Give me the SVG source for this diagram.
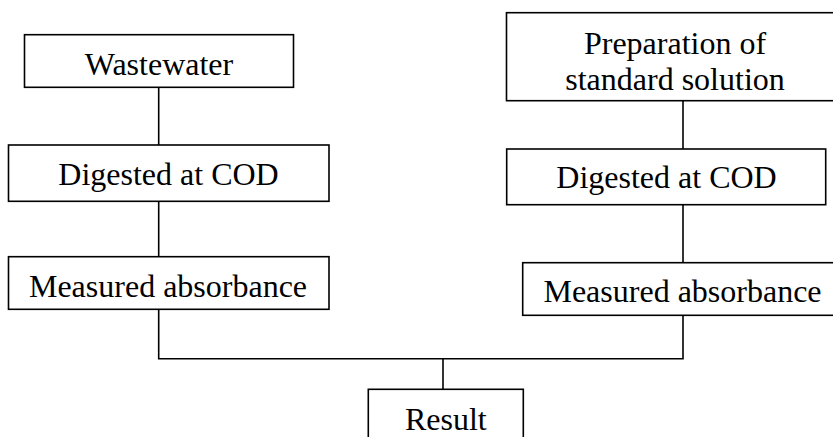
<svg xmlns="http://www.w3.org/2000/svg" width="833" height="437" viewBox="0 0 833 437">
<style>
rect{fill:#fff;stroke:#000;stroke-width:1.6}
text{font-family:"Liberation Serif","Times New Roman",serif;font-size:32px;fill:#000;text-anchor:middle}
.c path{fill:none;stroke:#000;stroke-width:1.6}
</style>
<rect x="0" y="0" width="833" height="437" style="stroke:none"/>
<g class="c" id="connectors">
<path d="M158.7 87.3V145"/>
<path d="M158.7 201.3V256.7"/>
<path d="M158.7 309.3V358.7H683V315.3"/>
<path d="M683 100.7V149"/>
<path d="M683 204.7V262.7"/>
<path d="M443 358.7V389.3"/>
</g>
<g id="wastewater"><rect x="24.5" y="34.7" width="269" height="52.6"/><text x="159" y="75">Wastewater</text></g>
<g id="digested-left"><rect x="8.5" y="145" width="320.5" height="56.3"/><text x="168.5" y="185">Digested at COD</text></g>
<g id="measured-left"><rect x="8.5" y="256.7" width="320.5" height="52.6"/><text x="168" y="297">Measured absorbance</text></g>
<g id="preparation"><rect x="506.5" y="12.7" width="340" height="88"/><text x="675" y="54">Preparation of</text><text x="675" y="90">standard solution</text></g>
<g id="digested-right"><rect x="506.7" y="149" width="319" height="55.7"/><text x="666.5" y="188">Digested at COD</text></g>
<g id="measured-right"><rect x="522.7" y="262.7" width="320" height="52.6"/><text x="682.5" y="302">Measured absorbance</text></g>
<g id="result"><rect x="368.3" y="389.3" width="155" height="60"/><text x="445.8" y="430">Result</text></g>
</svg>
